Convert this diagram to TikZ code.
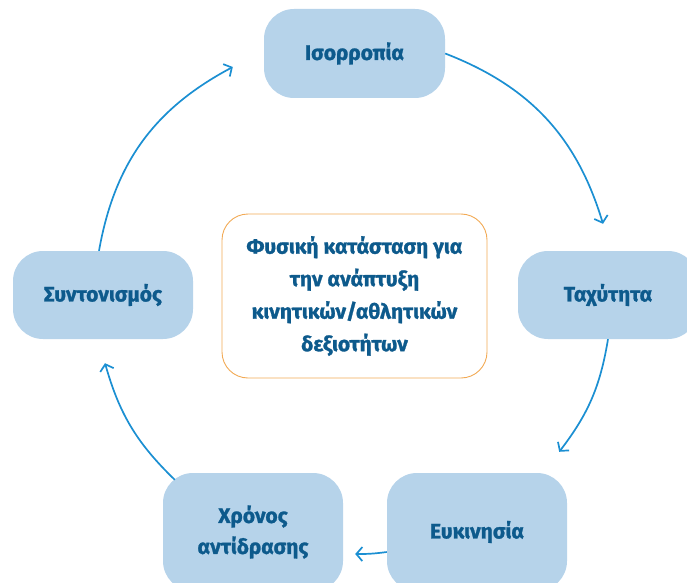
\documentclass[tikz,border=0pt]{standalone}
\usepackage{fontspec}
\setmainfont{Fira Sans}[BoldFeatures={FakeBold=1.2}]
\usetikzlibrary{arrows.meta}
\definecolor{boxblue}{HTML}{B6D3EA}
\definecolor{textblue}{HTML}{0D5A8C}
\definecolor{linkblue}{HTML}{1B8FD2}
\definecolor{rimorange}{HTML}{F2AA55}
\begin{document}
\begin{tikzpicture}[x=1pt,y=1pt,
	skill/.style={fill=boxblue,rounded corners=30pt,minimum width=180pt,minimum height=88pt,
		font=\fontsize{21}{31}\selectfont\bfseries,text=textblue,align=center},
	core/.style={draw=rimorange,line width=0.9pt,fill=white,rounded corners=26pt,minimum width=265pt,
		minimum height=164pt,font=\fontsize{21}{32.5}\selectfont\bfseries,text=textblue,align=center},
	link/.style={draw=linkblue,line width=1.7pt,-{Straight Barb[length=6pt,width=14pt,line width=1.7pt]}}]
	% 画布范围
	\useasboundingbox (0,0) rectangle (687,582);
	\clip (0,0) rectangle (687,582);
	% 中心方框
	\node[core] (state) at (354.5,286) {Φυσική κατάσταση για\\την ανάπτυξη\\κινητικών/αθλητικών\\δεξιοτήτων};
	% 五个方框
	\node[skill,minimum width=181pt,minimum height=89pt] (balance) at (354.5,528.5) {Ισορροπία};
	\node[skill] (speed) at (608,287) {Ταχύτητα};
	\node[skill,minimum height=118pt] (agility) at (477,50) {Ευκινησία};
	\node[skill,minimum height=118pt] (reaction) at (253,50) {Χρόνος\\αντίδρασης};
	\node[skill] (coordination) at (103,287) {Συντονισμός};
	% 箭头
	\draw[link] (balance.east) to[bend left=26] ([shift={(-5,27)}]speed.north);
	\draw[link] (speed.south) to[bend left=14] ([shift={(-8,21)}]agility.north east);
	\draw[link] ([yshift=-20]agility.west) to[bend left=4] ([shift={(12,-22)}]reaction.east);
	\draw[link] ([shift={(12,-7)}]reaction.north west) to[bend left=15] ([shift={(2,-24)}]coordination.south);
	\draw[link] ([xshift=-4]coordination.north) to[bend left=26] ([shift={(-31,-13.5)}]balance.west);
\end{tikzpicture}
\end{document}
